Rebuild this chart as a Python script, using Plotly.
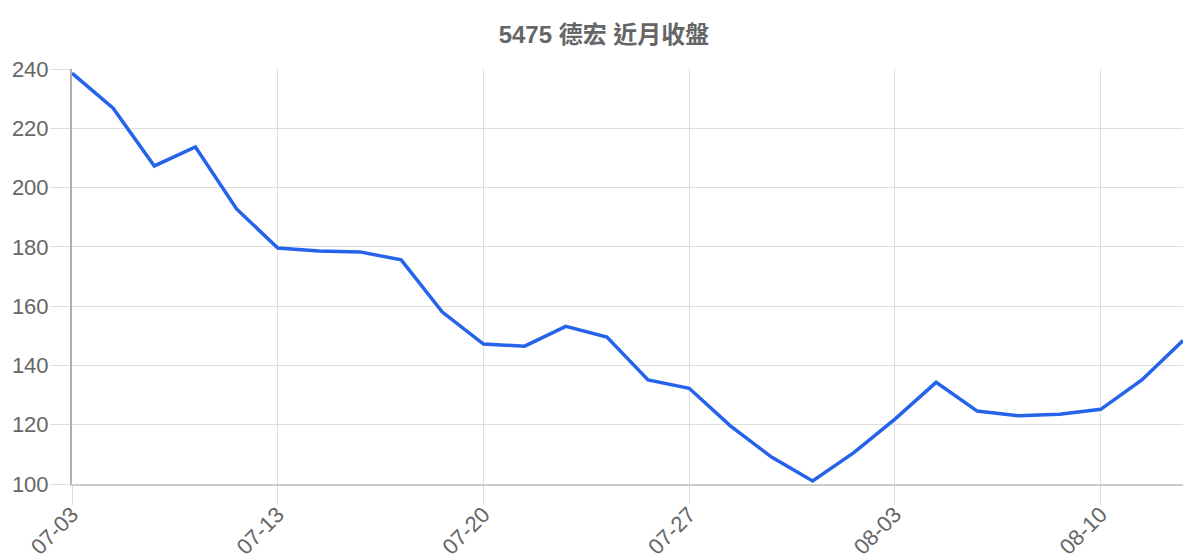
import plotly.graph_objects as go

dates = ["07-03", "07-06", "07-07", "07-08", "07-10", "07-13",
         "07-14", "07-15", "07-16", "07-17", "07-20",
         "07-21", "07-22", "07-23", "07-24", "07-27",
         "07-28", "07-29", "07-30", "07-31", "08-03",
         "08-04", "08-05", "08-06", "08-07", "08-10",
         "08-11", "08-12"]
close = [238.6, 226.8, 207.3, 213.7, 192.8, 179.6,
         178.6, 178.3, 175.6, 158.0, 147.2,
         146.5, 153.2, 149.6, 135.1, 132.3,
         119.6, 109.1, 101.0, 110.6, 121.9,
         134.3, 124.6, 123.0, 123.5, 125.2,
         135.1, 148.4]
tick_labels = ["07-03", "07-13", "07-20", "07-27", "08-03", "08-10"]
y_ticks = [100, 120, 140, 160, 180, 200, 220, 240]

grid = "#dddddd"
text_gray = "#666666"

# page body has an 8px margin, so the figure is 8px smaller and shifted
fig = go.Figure()
fig.add_trace(go.Scatter(x=dates, y=close, mode="lines",
                         line=dict(color="#2563eb", width=3.5),
                         hoverinfo="x+y"))

fig.update_layout(
    width=1192, height=552,
    margin=dict(l=64, r=17, t=61, b=76),
    paper_bgcolor="white", plot_bgcolor="white",
    showlegend=False,
    title=dict(text="<b>5475 德宏 近月收盤</b>", x=0.5, xanchor="center",
               y=1 - 27 / 552, yanchor="middle",
               font=dict(family="Liberation Sans, Noto Sans CJK TC", size=24, color=text_gray)),
    font=dict(family="Liberation Sans, Arial, sans-serif", color=text_gray),
)
fig.update_xaxes(type="category", tickmode="array", tickvals=tick_labels, ticktext=tick_labels,
                 tickangle=-45, showgrid=True, gridcolor=grid, gridwidth=1,
                 ticks="outside", ticklen=19, tickcolor=grid, ticklabelstandoff=-12,
                 showline=True, linecolor="#cccccc", linewidth=2,
                 range=[0, len(dates) - 1], tickfont=dict(size=22, color=text_gray),
                 zeroline=False, automargin=False)
fig.update_yaxes(range=[100, 240], tickvals=y_ticks, showgrid=True, gridcolor=grid, gridwidth=1,
                 ticks="outside", ticklen=20, tickcolor=grid, ticklabelstandoff=-3,
                 showline=True, linecolor="#b0b0b0", linewidth=2,
                 tickfont=dict(size=22, color=text_gray), zeroline=False, automargin=False)

fig.write_html("out.html")
